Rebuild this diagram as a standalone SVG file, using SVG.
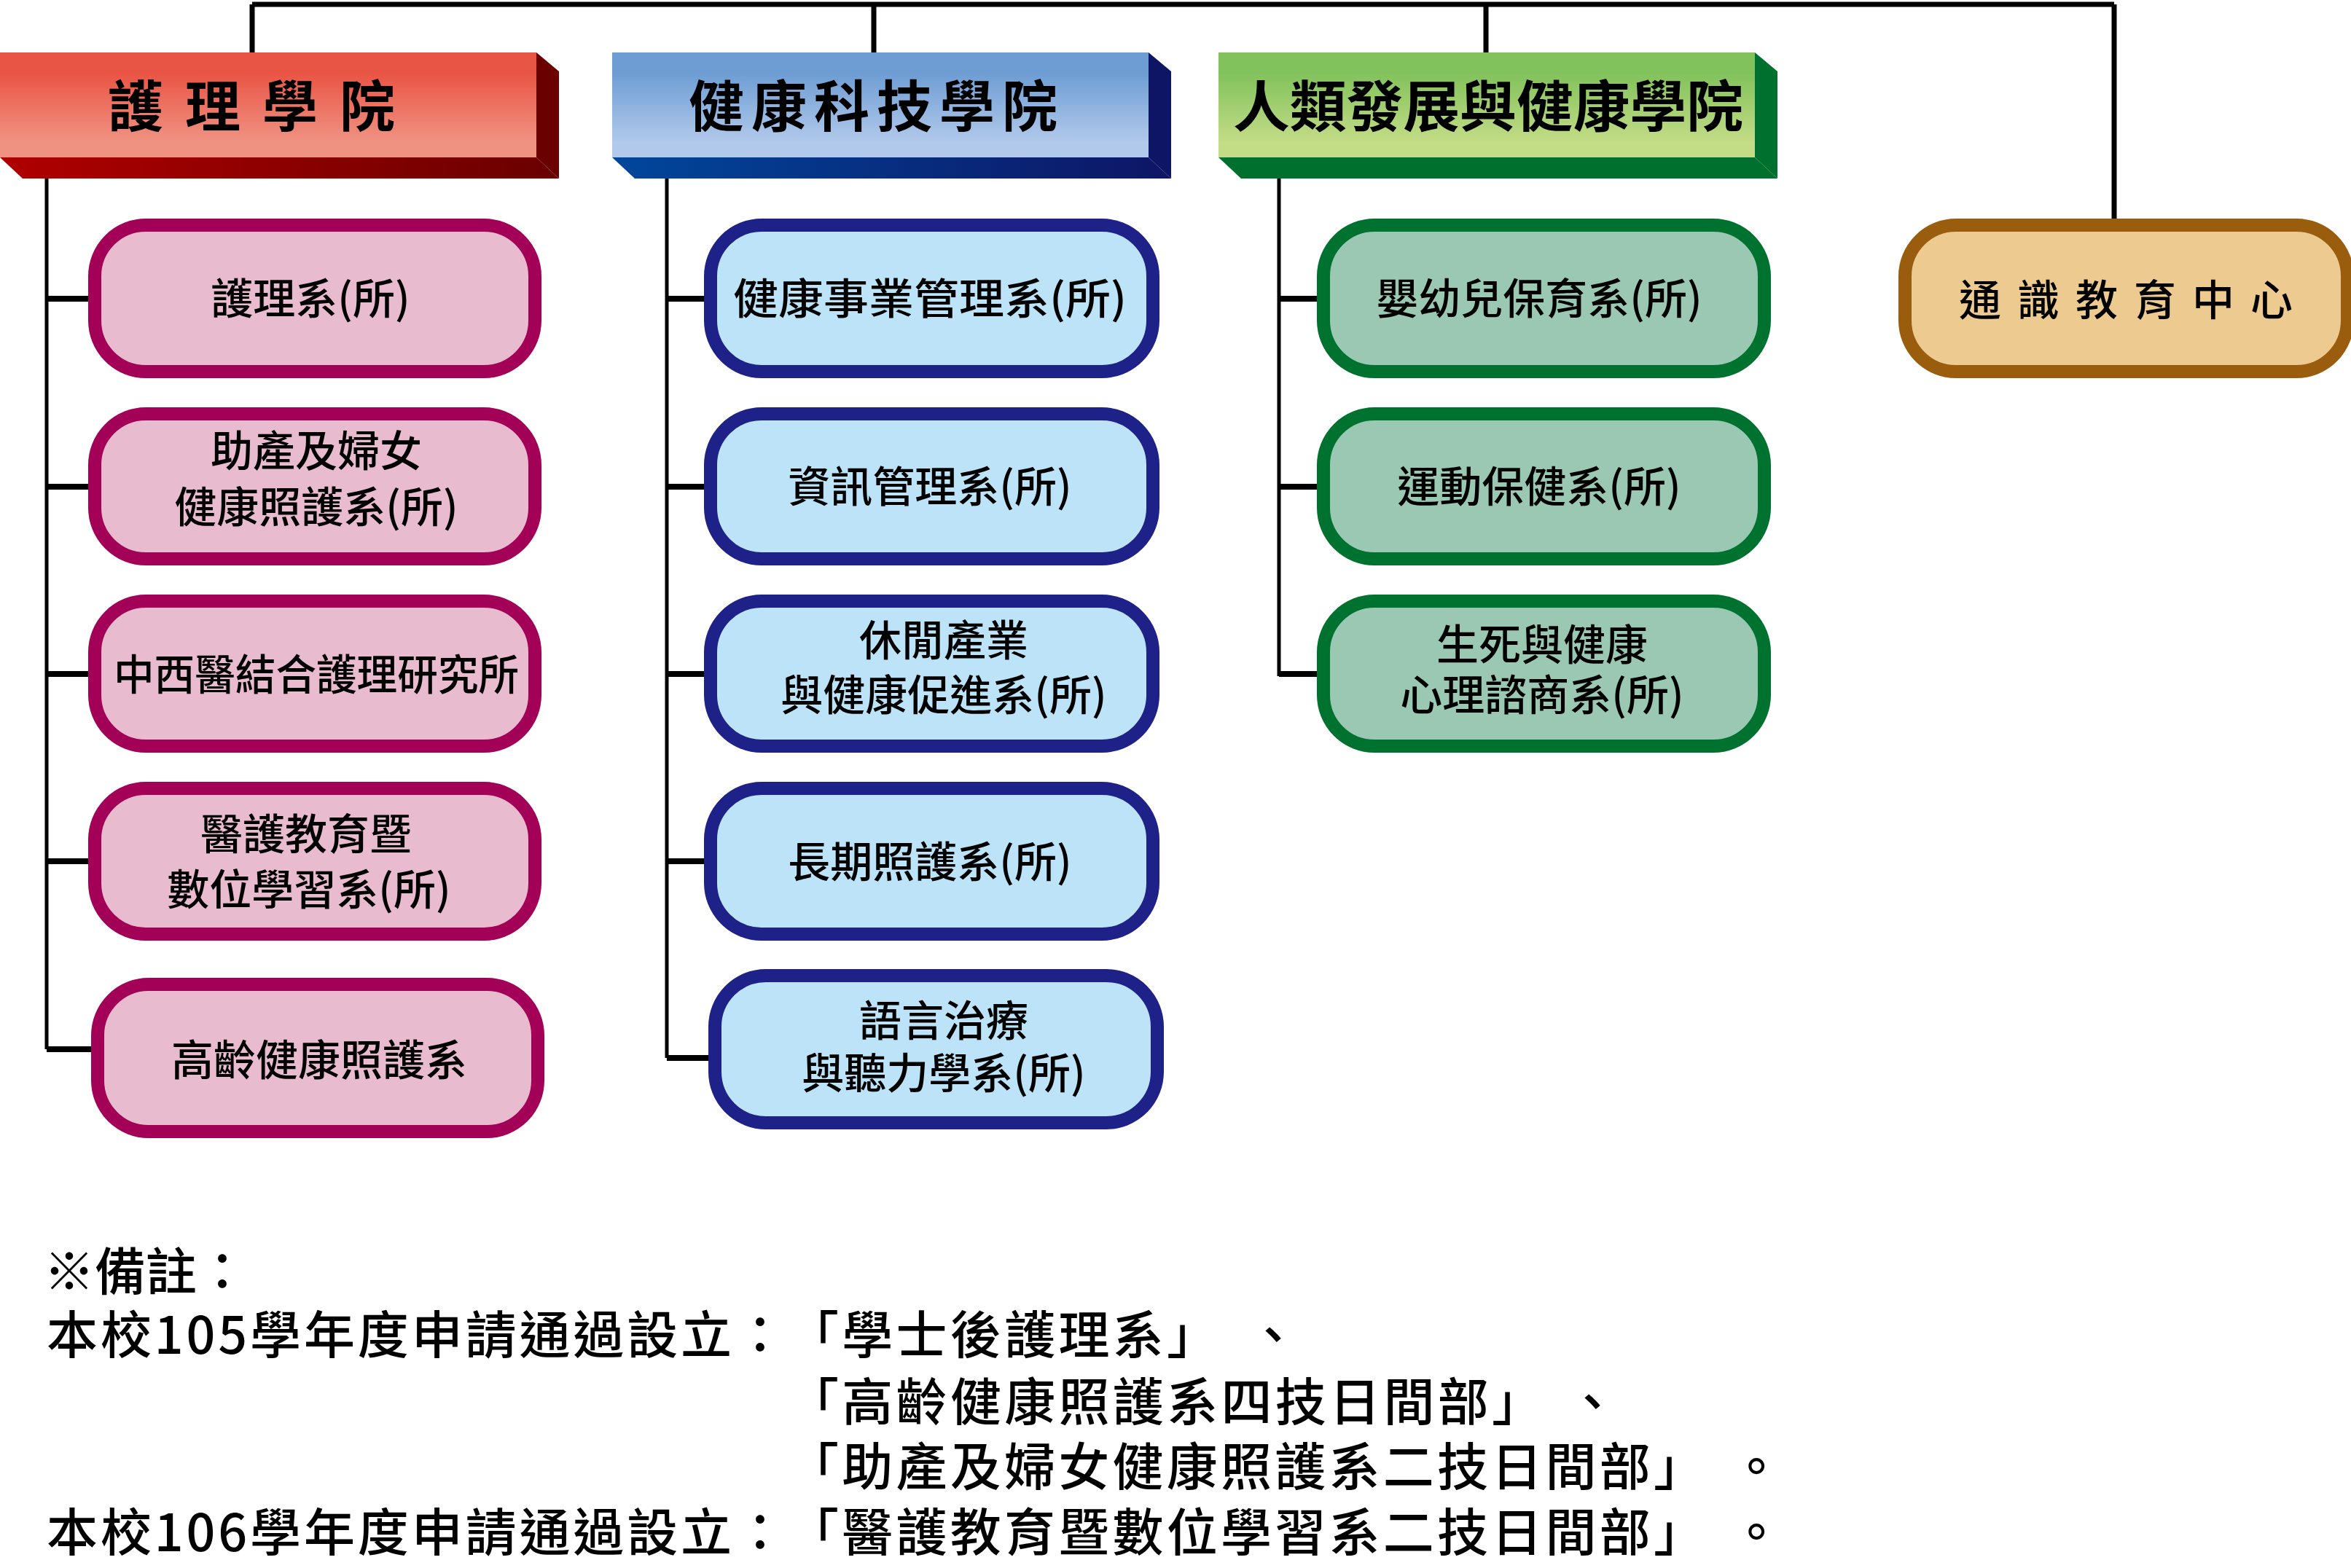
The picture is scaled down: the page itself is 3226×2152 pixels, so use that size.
<svg xmlns="http://www.w3.org/2000/svg" width="3226" height="2152" viewBox="0 0 3226 2152">
<defs>
<linearGradient id="gr" x1="0" y1="0" x2="0" y2="1"><stop offset="0.2" stop-color="#E95545"/><stop offset="0.85" stop-color="#F09282"/></linearGradient>
<linearGradient id="grb" x1="0" y1="0" x2="1" y2="0"><stop offset="0" stop-color="#B00000"/><stop offset="1" stop-color="#6A0000"/></linearGradient>
<linearGradient id="gb" x1="0" y1="0" x2="0" y2="1"><stop offset="0.2" stop-color="#6E9DD3"/><stop offset="0.85" stop-color="#B1C9EB"/></linearGradient>
<linearGradient id="gbb" x1="0" y1="0" x2="1" y2="0"><stop offset="0" stop-color="#00479C"/><stop offset="1" stop-color="#0E1565"/></linearGradient>
<linearGradient id="gg" x1="0" y1="0" x2="0" y2="1"><stop offset="0.2" stop-color="#82C25C"/><stop offset="0.85" stop-color="#C3DC86"/></linearGradient>
<style>
.t{font-family:"Noto Sans CJK TC","Noto Sans CJK SC",sans-serif;fill:#000;text-anchor:middle}
.h{font-size:76px;font-weight:bold}
.b{font-size:58px;font-weight:500}
.n{font-family:"Noto Sans CJK TC","Noto Sans CJK SC",sans-serif;font-size:70px;font-weight:500;fill:#000}
.c1{fill:#E8BBCF;stroke:#A30057;stroke-width:18}
.c2{fill:#BDE3F8;stroke:#1E2187;stroke-width:18}
.c3{fill:#9AC8B2;stroke:#00722F;stroke-width:18}
.c4{fill:#EDCA8F;stroke:#9A5C0D;stroke-width:18}
.ln{stroke:#000;stroke-width:5;fill:none}
.st{stroke:#000;stroke-width:8;fill:none}
</style>
</defs>
<g id="connectors">
<path class="ln" d="M346,6 H2901 M346,6 V72 M1199,6 V72 M2039,6 V72 M2901,6 V309" style="stroke-width:7"/>
<path class="ln" d="M64,237 V1440 M915,237 V1452 M1755,237 V928"/>
<path class="st" d="M64,410 H130 M64,668 H130 M64,925 H130 M64,1182 H130 M64,1440 H134"/>
<path class="st" d="M915,410 H975 M915,668 H975 M915,925 H975 M915,1182 H975 M915,1452 H981"/>
<path class="st" d="M1755,410 H1816 M1755,668 H1816 M1755,925 H1816"/>
</g>
<g id="h1">
<polygon points="0,216 736,216 767,245 31,245" fill="url(#grb)"/>
<polygon points="736,72 767,98 767,245 736,216" fill="#6A0000"/>
<rect x="0" y="72" width="736" height="144" fill="url(#gr)"/>
<text class="t h" x="360" y="174" letter-spacing="30">護理學院</text>
</g>
<g id="h2">
<polygon points="840,216 1576,216 1607,245 871,245" fill="url(#gbb)"/>
<polygon points="1576,72 1607,98 1607,245 1576,216" fill="#0E1565"/>
<rect x="840" y="72" width="736" height="144" fill="url(#gb)"/>
<text class="t h" x="1203" y="174" letter-spacing="10">健康科技學院</text>
</g>
<g id="h3">
<polygon points="1672,216 2408,216 2439,245 1703,245" fill="#00702F"/>
<polygon points="2408,72 2439,98 2439,245 2408,216" fill="#00702F"/>
<rect x="1672" y="72" width="736" height="144" fill="url(#gg)"/>
<text class="t h" x="2042" y="174" textLength="700" lengthAdjust="spacingAndGlyphs">人類發展與健康學院</text>
</g>
<g id="n1"><rect class="c1" x="130" y="309" width="604" height="201" rx="70"/><text class="t b" x="426" y="431">護理系(所)</text></g>
<g id="n2"><rect class="c1" x="130" y="568" width="604" height="199" rx="70"/><text class="t b" x="434" y="640">助產及婦女</text><text class="t b" x="434" y="717">健康照護系(所)</text></g>
<g id="n3"><rect class="c1" x="130" y="825" width="604" height="199" rx="70"/><text class="t b" x="434" y="947" textLength="556" lengthAdjust="spacingAndGlyphs">中西醫結合護理研究所</text></g>
<g id="n4"><rect class="c1" x="130" y="1082" width="604" height="200" rx="70"/><text class="t b" x="420" y="1166">醫護教育暨</text><text class="t b" x="424" y="1242">數位學習系(所)</text></g>
<g id="n5"><rect class="c1" x="134" y="1351" width="604" height="202" rx="70"/><text class="t b" x="438" y="1476">高齡健康照護系</text></g>
<g id="n6"><rect class="c2" x="975" y="309" width="607" height="201" rx="70"/><text class="t b" x="1276" y="431" textLength="540" lengthAdjust="spacingAndGlyphs">健康事業管理系(所)</text></g>
<g id="n7"><rect class="c2" x="975" y="568" width="607" height="199" rx="70"/><text class="t b" x="1276" y="689">資訊管理系(所)</text></g>
<g id="n8"><rect class="c2" x="975" y="825" width="607" height="199" rx="70"/><text class="t b" x="1295" y="900">休閒產業</text><text class="t b" x="1295" y="975">與健康促進系(所)</text></g>
<g id="n9"><rect class="c2" x="975" y="1082" width="607" height="200" rx="70"/><text class="t b" x="1276" y="1204">長期照護系(所)</text></g>
<g id="n10"><rect class="c2" x="981" y="1339" width="607" height="202" rx="70"/><text class="t b" x="1295" y="1422">語言治療</text><text class="t b" x="1295" y="1494">與聽力學系(所)</text></g>
<g id="n11"><rect class="c3" x="1816" y="309" width="605" height="201" rx="70"/><text class="t b" x="2112" y="431">嬰幼兒保育系(所)</text></g>
<g id="n12"><rect class="c3" x="1816" y="568" width="605" height="199" rx="70"/><text class="t b" x="2112" y="689">運動保健系(所)</text></g>
<g id="n13"><rect class="c3" x="1816" y="825" width="605" height="199" rx="70"/><text class="t b" x="2116" y="906">生死與健康</text><text class="t b" x="2116" y="975">心理諮商系(所)</text></g>
<g id="n14"><rect class="c4" x="2614" y="309" width="607" height="201" rx="70"/><text class="t b" x="2928" y="433" letter-spacing="22">通識教育中心</text></g>
<g id="notes">
<text class="n" x="60" y="1771">※備註：</text>
<text class="n" x="64" y="1858" textLength="1014" lengthAdjust="spacing">本校105學年度申請通過設立：</text>
<text class="n" x="1081" y="1858" textLength="590" lengthAdjust="spacing">「學士後護理系」</text>
<text class="n" x="1712" y="1858">、</text>
<text class="n" x="1081" y="1950" textLength="1036" lengthAdjust="spacing">「高齡健康照護系四技日間部」</text>
<text class="n" x="2150" y="1950">、</text>
<text class="n" x="1081" y="2039" textLength="1258" lengthAdjust="spacing">「助產及婦女健康照護系二技日間部」</text>
<text class="n" x="2375" y="2039">。</text>
<text class="n" x="64" y="2129" textLength="1014" lengthAdjust="spacing">本校106學年度申請通過設立：</text>
<text class="n" x="1081" y="2129" textLength="1258" lengthAdjust="spacing">「醫護教育暨數位學習系二技日間部」</text>
<text class="n" x="2375" y="2129">。</text>
</g>
</svg>
